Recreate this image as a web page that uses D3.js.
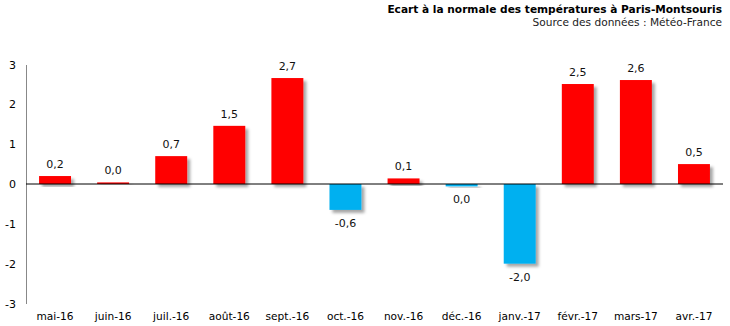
<!DOCTYPE html>
<html><head><meta charset="utf-8">
<script src="https://cdn.jsdelivr.net/npm/d3@7"></script>
<style>body{margin:0;background:#fff}svg{display:block}text{font-family:"DejaVu Sans",Verdana,sans-serif}</style>
</head><body><svg id="c" width="730" height="326"></svg>
<script>
const categories=["mai-16","juin-16","juil.-16","août-16","sept.-16","oct.-16","nov.-16","déc.-16","janv.-17","févr.-17","mars-17","avr.-17"];
const values=[0.2,0.04,0.7,1.46,2.66,-0.65,0.14,-0.06,-2.0,2.51,2.61,0.5];
const labels=["0,2","0,0","0,7","1,5","2,7","-0,6","0,1","0,0","-2,0","2,5","2,6","0,5"];
const yTicks=[3,2,1,0,-1,-2,-3];
const title="Ecart à la normale des températures à Paris-Montsouris";
const subtitle="Source des données : Météo-France";

const svg=d3.select("#c");
const defs=svg.append("defs");
const f=defs.append("filter").attr("id","sh").attr("x","-20%").attr("y","-20%").attr("width","150%").attr("height","150%");
f.append("feDropShadow").attr("dx",3).attr("dy",3).attr("stdDeviation",1.5).attr("flood-color","#000").attr("flood-opacity",0.35);

const x=d3.scaleBand().domain(categories).range([26,723]).paddingInner(0.45).paddingOuter(0.225);
const y=d3.scaleLinear().domain([-3,3]).range([303.5,64.5]);

svg.append("text").attr("x",722).attr("y",13).attr("text-anchor","end").attr("font-size",10.6).attr("font-weight","bold").text(title);
svg.append("text").attr("x",722).attr("y",26).attr("text-anchor","end").attr("font-size",10.6).attr("fill","#222").text(subtitle);

const ya=svg.append("g").attr("transform","translate(26,0)").call(d3.axisLeft(y).tickValues(yTicks).tickSize(0).tickPadding(10).tickFormat(d3.format("d")));
ya.select(".domain").attr("stroke","#888");
ya.selectAll("text").attr("font-size",11).attr("fill","#000").attr("font-family","DejaVu Sans, Verdana, sans-serif").text(d=>d<0?"-"+Math.abs(d):d);

svg.append("g").selectAll("rect").data(values).join("rect")
 .attr("x",(d,i)=>x(categories[i])).attr("width",x.bandwidth())
 .attr("y",d=>y(Math.max(0,d))).attr("height",d=>Math.abs(y(d)-y(0)))
 .attr("fill",d=>d>=0?"#FF0000":"#00B0F0").attr("filter","url(#sh)");

svg.append("line").attr("x1",26).attr("x2",723).attr("y1",y(0)).attr("y2",y(0)).attr("stroke","#000").attr("stroke-width",1);

svg.append("g").selectAll("text").data(values).join("text")
 .attr("x",(d,i)=>x(categories[i])+x.bandwidth()/2)
 .attr("y",d=>d>=0?y(d)-8:y(d)+17)
 .attr("text-anchor","middle").attr("font-size",11).attr("fill","#111")
 .text((d,i)=>labels[i]);

const xa=svg.append("g").attr("transform","translate(0,"+y(-3)+")").call(d3.axisBottom(x).tickSize(0).tickPadding(9));
xa.select(".domain").remove();
xa.selectAll("text").attr("font-size",10.6).attr("fill","#000").attr("font-family","DejaVu Sans, Verdana, sans-serif");
</script></body></html>
